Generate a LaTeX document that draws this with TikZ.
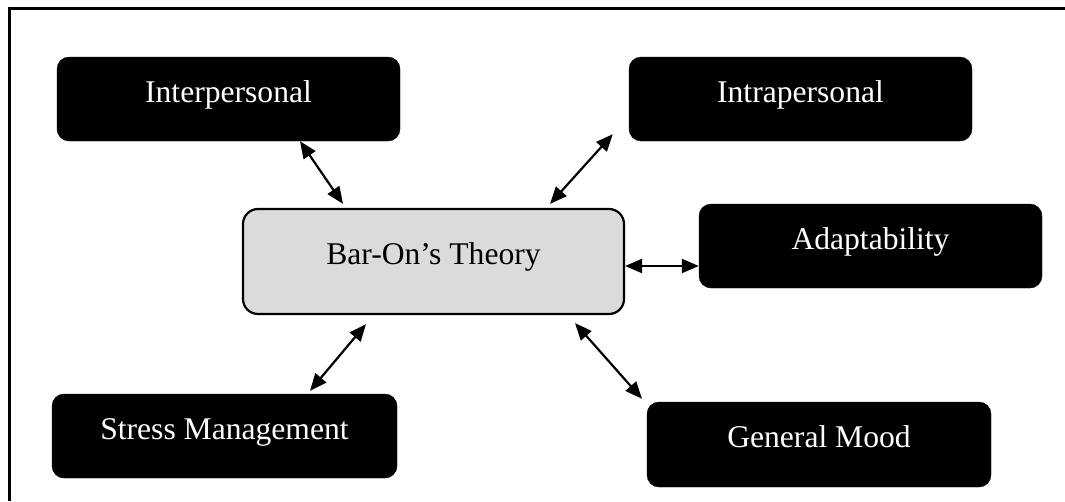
\documentclass[tikz,border=0pt]{standalone}
\usepackage{fontspec}
\setmainfont{Liberation Serif}
\usetikzlibrary{arrows.meta,calc}
\tikzset{
  blackbox/.style={fill=black, draw=black, text=white, rounded corners=12pt,
    minimum width=343pt, minimum height=84pt, inner sep=0pt,
    font=\fontsize{31.6}{36}\selectfont, text height=20pt, text depth=14pt},
  centerbox/.style={fill=black!14, draw=black, line width=2.2pt, rounded corners=15pt,
    minimum width=381pt, minimum height=105pt, inner sep=0pt,
    font=\fontsize{31.6}{36}\selectfont, text height=20pt, text depth=14pt},
  link/.style={line width=2.2pt, {Triangle[length=17pt,width=14pt]}-{Triangle[length=17pt,width=14pt]}},
  frameline/.style={line width=3pt}
}
\begin{document}
\begin{tikzpicture}[x=1pt,y=-1pt]
\useasboundingbox (0,0) rectangle (1065,501);
\draw[frameline] (9,501) -- (9,8) -- (1065,8);
\node[blackbox] (inter) at (228.5,99) {Interpersonal};
\node[blackbox] (intra) at (800.5,99) {Intrapersonal};
\node[blackbox] (adapt) at (870.5,246) {Adaptability};
\node[centerbox] (bar) at (433.5,261.5) {Bar-On’s Theory};
\node[blackbox, minimum width=345pt] (stress) at (224.5,436) {Stress Management};
\node[blackbox, minimum width=344pt, minimum height=85pt] (gen) at (819,444.5) {General Mood};
\draw[link] ($(inter.south)+(71.5,0)$) -- ($(bar.north)+(-90.5,-4)$);
\draw[link] ($(intra.south west)+(-16,-7)$) -- ($(bar.north)+(116.5,-4)$);
\draw[link] ($(bar.east)+(0,4.5)$) -- ($(adapt.west)+(0,20)$);
\draw[link] ($(bar.south)+(-67.5,9)$) -- ($(stress.north)+(85.5,-3)$);
\draw[link] ($(bar.south)+(141.5,8)$) -- ($(gen.north)+(-177,-3)$);
\end{tikzpicture}
\end{document}
